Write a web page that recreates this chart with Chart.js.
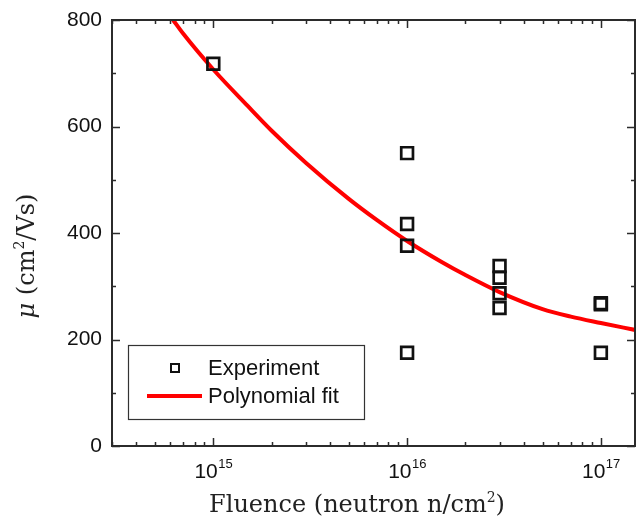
<!DOCTYPE html>
<html>
<head>
<meta charset="utf-8">
<script src="https://cdn.jsdelivr.net/npm/chart.js@4.4.1/dist/chart.umd.min.js"></script>
<style>
  html, body { margin: 0; padding: 0; background: #fff; }
</style>
</head>
<body>
<canvas id="chart" width="637" height="524"></canvas>
<script>
// measured points
const fluence  = [1e15, 1e16, 1e16, 1e16, 1e16, 3e16, 3e16, 3e16, 3e16, 1e17, 1e17, 1e17];
const mobility = [718, 550, 417, 376, 175, 338, 316, 287, 259, 268, 266, 175];

// fit curve
const fitFluence  = [6.2e14, 7e14, 1e15, 1.5e15, 2e15, 3e15, 5e15, 7e15, 1e16, 1.5e16, 2e16, 3e16, 5e16, 7e16, 1e17, 1.5e17];
const fitMobility = [800, 774, 707, 639, 592, 532, 464, 424, 385, 346, 321, 289, 257, 243, 231, 218];

const seriesLabels = ['Experiment', 'Polynomial fit'];
const xLabelExponents = [15, 16, 17];

const sansFont = '"Liberation Sans", Arial, sans-serif';
const serifFont = '"DejaVu Serif", serif';
const axisColor = '#2b2b2b';

function drawRich(ctx, parts, x, y, align) {
    // parts: [text, font, dy]
    let total = 0;
    parts.forEach(p => { ctx.font = p[1]; total += ctx.measureText(p[0]).width; });
    let cx = align === 'center' ? x - total / 2 : x;
    parts.forEach(p => {
        ctx.font = p[1];
        ctx.fillText(p[0], cx, y + (p[2] || 0));
        cx += ctx.measureText(p[0]).width;
    });
}

const framePlugin = {
    id: 'frame',
    afterDraw(chart) {
        const ctx = chart.ctx;
        const a = chart.chartArea;
        const xs = chart.scales.x;
        const ys = chart.scales.y;
        ctx.save();
        ctx.strokeStyle = axisColor;
        ctx.lineWidth = 2;
        ctx.strokeRect(a.left, a.top, a.right - a.left, a.bottom - a.top);

        // x ticks, inward on bottom and top
        ctx.lineWidth = 1.5;
        xs.ticks.forEach(t => {
            const v = t.value;
            if (v < xs.min || v > xs.max) return;
            const e = Math.floor(Math.log10(v) + 1e-9);
            const s = v / Math.pow(10, e);
            if (Math.abs(s - Math.round(s)) > 1e-6) return;
            const len = Math.round(s) === 1 ? 8 : 4;
            const px = Math.round(xs.getPixelForValue(v)) + 0.5;
            ctx.beginPath();
            ctx.moveTo(px, a.bottom); ctx.lineTo(px, a.bottom - len);
            ctx.moveTo(px, a.top); ctx.lineTo(px, a.top + len);
            ctx.stroke();
        });
        // y ticks, inward on left and right
        ys.ticks.forEach(t => {
            const len = t.value % 200 === 0 ? 8 : 4;
            const py = Math.round(ys.getPixelForValue(t.value)) + 0.5;
            ctx.beginPath();
            ctx.moveTo(a.left, py); ctx.lineTo(a.left + len, py);
            ctx.moveTo(a.right, py); ctx.lineTo(a.right - len, py);
            ctx.stroke();
        });

        // x tick labels 10^n
        ctx.fillStyle = '#111';
        ctx.textBaseline = 'alphabetic';
        ctx.textAlign = 'left';
        xLabelExponents.forEach(n => {
            const px = xs.getPixelForValue(Math.pow(10, n));
            ctx.font = '21px ' + sansFont;
            const w1 = ctx.measureText('10').width;
            ctx.font = '13px ' + sansFont;
            const w2 = ctx.measureText(String(n)).width;
            const x0 = px - (w1 + w2) / 2;
            ctx.font = '21px ' + sansFont;
            ctx.fillText('10', x0, a.bottom + 32);
            ctx.font = '13px ' + sansFont;
            ctx.fillText(String(n), x0 + w1 + 0.5, a.bottom + 22);
        });

        // axis titles
        ctx.fillStyle = '#222';
        drawRich(ctx, [
            ['Fluence (neutron n/cm', '24px ' + serifFont],
            ['2', '14px ' + serifFont, -10],
            [')', '24px ' + serifFont]
        ], 357, a.bottom + 66, 'center');

        ctx.save();
        ctx.translate(34, (a.top + a.bottom) / 2 + 23);
        ctx.rotate(-Math.PI / 2);
        drawRich(ctx, [
            ['\u03bc', 'italic 24px ' + serifFont],
            [' (cm', '24px ' + serifFont],
            ['2', '14px ' + serifFont, -10],
            ['/Vs)', '24px ' + serifFont]
        ], 0, 0, 'center');
        ctx.restore();

        // legend box
        const lx = a.left + 16, ly = a.bottom - 101, lw = 236, lh = 74;
        ctx.fillStyle = '#fff';
        ctx.fillRect(lx, ly, lw, lh);
        ctx.strokeStyle = '#333';
        ctx.lineWidth = 1.2;
        ctx.strokeRect(lx + 0.5, ly + 0.5, lw, lh);

        const ds0 = chart.data.datasets[0];
        const ds1 = chart.data.datasets[1];
        ctx.strokeStyle = ds0.borderColor;
        ctx.lineWidth = 2;
        ctx.strokeRect(lx + 43, ly + 19, 8, 8);
        ctx.strokeStyle = ds1.borderColor;
        ctx.lineWidth = 4;
        ctx.beginPath();
        ctx.moveTo(lx + 19, ly + 51); ctx.lineTo(lx + 74, ly + 51);
        ctx.stroke();

        ctx.fillStyle = '#111';
        ctx.font = '22px ' + sansFont;
        ctx.textBaseline = 'middle';
        ctx.fillText(ds0.label, lx + 80, ly + 24);
        ctx.fillText(ds1.label, lx + 80, ly + 52);
        ctx.restore();
    }
};

const experimentData = fluence.map((f, i) => ({ x: f, y: mobility[i] }));
const fitData = fitFluence.map((f, i) => ({ x: f, y: fitMobility[i] }));

new Chart(document.getElementById('chart'), {
    type: 'scatter',
    data: {
        datasets: [{
            label: seriesLabels[0],
            data: experimentData,
            showLine: false,
            pointStyle: 'rect',
            pointRadius: 8.3,
            pointHoverRadius: 8.3,
            borderWidth: 2.7,
            borderColor: '#111',
            backgroundColor: 'rgba(0,0,0,0)'
        }, {
            label: seriesLabels[1],
            data: fitData,
            showLine: true,
            pointRadius: 0,
            borderColor: '#ff0000',
            borderWidth: 4,
            cubicInterpolationMode: 'monotone',
            fill: false
        }]
    },
    options: {
        responsive: false,
        animation: false,
        layout: { autoPadding: false, padding: { top: 20, right: 2, left: 0, bottom: 0 } },
        scales: {
            x: {
                type: 'logarithmic',
                min: 3e14,
                max: 1.5e17,
                grid: { display: false, drawTicks: false },
                border: { display: false },
                ticks: { display: false },
                afterFit(scale) {
                    scale.height = 78;
                    scale.paddingLeft = 0;
                    scale.paddingRight = 0;
                }
            },
            y: {
                min: 0,
                max: 800,
                grid: { display: false, drawTicks: false },
                border: { display: false },
                ticks: {
                    stepSize: 100,
                    autoSkip: false,
                    padding: 10,
                    color: '#111',
                    font: { family: sansFont, size: 21 },
                    callback: v => (v % 200 === 0 ? String(v) : '')
                },
                afterFit(scale) {
                    scale.width = 112;
                    scale.paddingTop = 0;
                    scale.paddingBottom = 0;
                }
            }
        },
        plugins: {
            legend: { display: false },
            tooltip: { enabled: false }
        }
    },
    plugins: [framePlugin]
});
</script>
</body>
</html>
